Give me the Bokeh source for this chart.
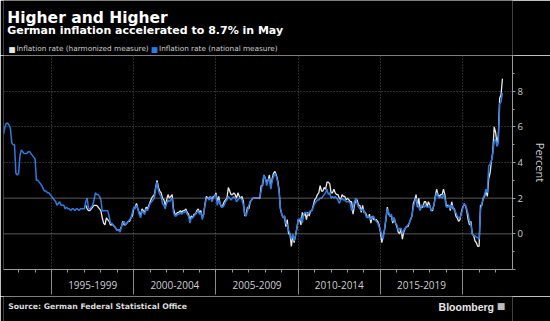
from bokeh.plotting import figure
from bokeh.models import Range1d, FixedTicker, Label, Span, LinearAxis
from bokeh.layouts import column
from bokeh.embed import file_html
from bokeh.resources import INLINE

# ---------------- data (year-over-year %, monthly) ----------------
national_start = 1992   # Jan 1992 .. May 2022
national = [
    5.6, 6.0, 6.2, 6.2, 6.1, 5.9, 5.1, 5.0, 5.0, 3.4, 3.3, 3.4,   # 1992
    4.4, 4.7, 4.6, 4.5, 4.5, 4.5, 4.6, 4.6, 4.5, 4.4, 4.3, 4.2,   # 1993
    3.0, 3.0, 2.9, 2.8, 2.7, 2.5, 2.4, 2.4, 2.3, 2.3, 2.2, 2.1,   # 1994
    2.0, 1.9, 1.8, 1.6, 1.7, 1.8, 1.6, 1.6, 1.6, 1.4, 1.5, 1.4,   # 1995
    1.4, 1.3, 1.4, 1.4, 1.3, 1.4, 1.4, 1.3, 1.4, 1.4, 1.4, 1.4,   # 1996
    1.8, 2.0, 1.4, 1.4, 1.5, 1.6, 1.9, 2.3, 2.2, 2.2, 2.1, 1.9,   # 1997
    1.3, 1.3, 1.3, 1.3, 1.3, 1.0, 0.6, 0.6, 0.5, 0.4, 0.3, 0.2,   # 1998
    0.2, 0.1, 0.4, 0.6, 0.7, 0.5, 0.6, 0.7, 0.8, 0.9, 1.2, 1.5,   # 1999
    1.4, 1.6, 1.4, 1.1, 0.9, 1.3, 1.2, 1.1, 1.4, 1.3, 1.5, 1.7,   # 2000
    1.8, 1.9, 2.0, 2.5, 2.9, 2.4, 2.2, 2.1, 1.7, 1.6, 1.4, 1.7,   # 2001
    1.9, 1.8, 1.9, 2.0, 1.2, 1.0, 1.0, 1.1, 1.1, 1.2, 1.1, 1.2,   # 2002
    1.2, 1.3, 1.1, 1.0, 0.6, 0.9, 0.9, 1.0, 1.1, 1.2, 1.3, 1.1,   # 2003
    1.2, 0.8, 1.1, 1.6, 2.0, 2.0, 1.9, 2.1, 1.8, 2.0, 2.1, 2.2,   # 2004
    1.6, 1.9, 1.7, 1.5, 1.5, 1.6, 1.8, 1.9, 2.1, 2.0, 1.9, 2.0,   # 2005
    2.1, 2.0, 1.8, 1.9, 2.0, 2.0, 1.9, 1.6, 1.1, 1.0, 1.3, 1.6,   # 2006
    1.8, 1.9, 2.0, 2.0, 2.0, 2.0, 2.0, 2.1, 2.4, 2.9, 3.3, 3.1,   # 2007
    2.7, 3.0, 3.1, 2.5, 3.0, 3.2, 3.4, 3.2, 2.9, 2.4, 1.5, 1.1,   # 2008
    0.9, 1.0, 0.6, 0.5, 0.2, 0.0, -0.3, 0.0, -0.4, -0.1, 0.3, 0.8,  # 2009
    0.8, 0.9, 0.6, 1.1, 1.2, 1.2, 1.1, 1.2, 1.3, 1.3, 1.5, 1.7,   # 2010
    1.8, 1.9, 1.9, 2.0, 2.0, 2.1, 2.2, 2.3, 2.5, 2.2, 2.3, 2.0,   # 2011
    2.1, 2.0, 2.1, 2.0, 1.9, 1.7, 1.9, 2.0, 1.9, 1.9, 1.8, 1.8,   # 2012
    1.8, 1.7, 1.3, 1.4, 1.8, 2.0, 1.7, 1.5, 1.4, 1.3, 1.4, 1.3,   # 2013
    1.1, 0.9, 1.0, 0.9, 0.8, 0.9, 1.0, 0.8, 0.7, 0.6, 0.4, 0.2,   # 2014
    -0.1, -0.3, 0.3, 0.9, 1.4, 1.2, 1.0, 1.1, 0.7, 0.9, 0.6, 0.5,  # 2015
    0.2, 0.3, 0.3, 0.0, 0.2, 0.3, 0.4, 0.5, 0.6, 0.8, 1.0, 1.5,   # 2016
    1.8, 2.0, 1.6, 1.5, 1.3, 1.6, 1.6, 1.5, 1.6, 1.5, 1.5, 1.6,   # 2017
    1.3, 1.4, 1.6, 2.0, 2.3, 2.1, 2.0, 2.1, 2.0, 2.2, 2.0, 1.5,   # 2018
    1.5, 1.6, 1.4, 1.6, 1.5, 1.3, 1.2, 1.0, 0.9, 0.9, 1.1, 1.4,   # 2019
    1.7, 1.6, 1.4, 1.1, 0.7, 0.5, 0.0, -0.1, -0.1, -0.2, -0.2, -0.3,  # 2020
    1.3, 1.7, 2.0, 2.2, 2.5, 2.3, 3.8, 3.9, 4.1, 4.5, 5.2, 5.3,   # 2021
    4.9, 5.1, 7.3, 7.4, 7.9,                                      # 2022
]

harmonized_start = 1997   # Jan 1997 .. May 2022
harmonized = [
    1.6, 1.4, 1.3, 1.3, 1.4, 1.5, 1.6, 1.6, 1.6, 1.5, 1.4, 1.3,   # 1997
    0.9, 0.6, 0.5, 0.9, 0.8, 0.7, 0.5, 0.5, 0.5, 0.4, 0.3, 0.2,   # 1998
    0.2, 0.2, 0.4, 0.7, 0.5, 0.5, 0.6, 0.7, 0.7, 0.9, 1.0, 1.4,   # 1999
    1.5, 1.7, 1.4, 1.2, 1.0, 1.4, 1.3, 1.2, 1.5, 1.4, 1.6, 1.8,   # 2000
    2.0, 2.1, 2.2, 2.6, 3.0, 2.6, 2.4, 2.3, 2.0, 1.9, 1.6, 1.9,   # 2001
    2.2, 2.0, 2.1, 2.2, 1.4, 1.1, 1.1, 1.2, 1.2, 1.3, 1.2, 1.3,   # 2002
    1.3, 1.4, 1.2, 1.1, 0.8, 1.0, 0.9, 1.1, 1.1, 1.3, 1.4, 1.2,   # 2003
    1.3, 0.9, 1.1, 1.7, 2.1, 2.0, 2.0, 2.1, 1.9, 2.1, 2.1, 2.3,   # 2004
    1.8, 2.1, 1.7, 1.5, 1.6, 1.8, 1.9, 2.0, 2.6, 2.4, 2.2, 2.2,   # 2005
    2.3, 2.2, 2.0, 2.3, 2.1, 2.0, 2.1, 1.8, 1.0, 1.1, 1.5, 1.4,   # 2006
    1.8, 1.9, 2.0, 2.0, 2.0, 2.0, 2.0, 2.0, 2.7, 2.7, 3.3, 3.1,   # 2007
    2.9, 3.0, 3.3, 2.6, 3.1, 3.4, 3.5, 3.3, 3.0, 2.5, 1.4, 1.1,   # 2008
    0.9, 1.0, 0.4, 0.8, 0.0, 0.0, -0.7, -0.1, -0.5, -0.1, 0.3, 0.8,  # 2009
    0.8, 0.5, 1.2, 1.0, 1.2, 0.8, 1.2, 1.0, 1.3, 1.3, 1.6, 1.9,   # 2010
    2.0, 2.2, 2.3, 2.7, 2.4, 2.4, 2.6, 2.5, 2.9, 2.9, 2.8, 2.3,   # 2011
    2.3, 2.5, 2.3, 2.2, 2.2, 2.0, 1.9, 2.2, 2.1, 2.1, 1.9, 2.0,   # 2012
    1.9, 1.8, 1.8, 1.1, 1.6, 1.9, 1.9, 1.6, 1.6, 1.2, 1.6, 1.2,   # 2013
    1.2, 1.0, 0.9, 1.1, 0.6, 1.0, 0.8, 0.8, 0.8, 0.7, 0.5, 0.1,   # 2014
    -0.5, -0.1, 0.2, 0.8, 1.5, 1.1, 1.0, 1.0, 0.6, 0.9, 0.6, 0.4,  # 2015
    0.1, 0.0, 0.3, -0.3, 0.1, 0.3, 0.4, 0.4, 0.6, 0.8, 1.0, 1.7,  # 2016
    1.9, 2.2, 1.5, 2.0, 1.4, 1.5, 1.5, 1.8, 1.8, 1.5, 1.8, 1.6,   # 2017
    1.3, 1.3, 1.6, 2.1, 2.5, 2.2, 2.1, 2.2, 2.2, 2.5, 2.2, 1.6,   # 2018
    1.6, 1.6, 1.3, 1.8, 1.4, 1.4, 1.0, 0.9, 0.7, 0.8, 1.2, 1.5,   # 2019
    1.6, 1.6, 1.3, 0.8, 0.5, 0.7, 0.0, -0.1, -0.4, -0.5, -0.7, -0.7,  # 2020
    1.6, 1.6, 2.0, 2.1, 2.4, 2.1, 3.1, 3.4, 4.1, 4.6, 6.0, 5.7,   # 2021
    5.1, 5.5, 7.6, 7.8, 8.7,                                      # 2022
]

period_starts = [1995, 2000, 2005, 2010, 2015, 2020]
period_labels = ["1995-1999", "2000-2004", "2005-2009", "2010-2014", "2015-2019"]
y_ticks = [-2, 0, 2, 4, 6, 8, 10]
y_minor = [-1, 1, 3, 5, 7, 9]
year_ticks = list(range(1993, 2023))

series_names = ["Inflation rate (harmonized measure)", "Inflation rate (national measure)"]
title = "Higher and Higher"
subtitle = "German inflation accelerated to 8.7% in May"
source = "Source: German Federal Statistical Office"
brand = "Bloomberg"


def month_end_x(start_year, n):
    # month-end positions in decimal years
    return [start_year + (i + 1) / 12.0 for i in range(n)]


x_nat = month_end_x(national_start, len(national))
x_har = month_end_x(harmonized_start, len(harmonized))

FONT = "Open Sans"
HFONT = "DejaVu Sans"
BG = "black"
WHITE = "#e8e8e8"
BLUE = "#2b7be3"
W = 550
HEAD_H, FOOT_H = 55, 25
MAIN_H = 321 - HEAD_H - FOOT_H
FRAME_H = 214


def text_panel(h):
    f = figure(width=W, height=h, x_range=Range1d(0, W), y_range=Range1d(h, 0),
               x_axis_type=None, y_axis_type=None, output_backend="svg",
               toolbar_location=None, min_border=0, outline_line_color=None,
               background_fill_color=BG, border_fill_color=BG)
    f.xgrid.visible = False
    f.ygrid.visible = False
    return f


def put(f, x, y, txt, size, color, bold=False, align="left", font=HFONT):
    f.add_layout(Label(x=x, y=y, text=txt, text_font=font, text_font_size=size,
                       text_font_style="bold" if bold else "normal",
                       text_color=color, text_align=align,
                       text_baseline="alphabetic"))


# ---------------- header ----------------
head = text_panel(HEAD_H)
put(head, 4, 17, title, "15.5px", "white", bold=True)
put(head, 4, 29.5, subtitle, "11px", "white", bold=True)
for sx, col, txt in ((5.5, WHITE, series_names[0]), (159.5, BLUE, series_names[1])):
    put(head, sx, 48.5, "\u25a0", "7.5px", col)
    put(head, sx + 8.5, 48.3, txt, "7.3px", "#cfcfcf")

# ---------------- main chart ----------------
X0, X1 = 1992.08, 2023.03
p = figure(width=W, height=MAIN_H, x_range=Range1d(X0, X1), y_range=Range1d(-2, 10),
           output_backend="svg", toolbar_location=None, y_axis_location="right",
           min_border_left=3, min_border_right=37, min_border_top=0,
           min_border_bottom=MAIN_H - FRAME_H,
           background_fill_color=BG, border_fill_color=BG, outline_line_color=None)

p.xgrid.ticker = FixedTicker(ticks=period_starts)
p.xgrid.grid_line_color = "#555555"
p.xgrid.grid_line_dash = "1 2"
p.ygrid.ticker = FixedTicker(ticks=[4, 6, 8, 10])
p.ygrid.grid_line_color = "#5a5a5a"
p.ygrid.grid_line_dash = "1 2"
for lvl in (0, 2):
    p.add_layout(Span(location=lvl, dimension="width", line_color="#b0b0b0",
                      line_dash="1 1", line_width=1))

# x axis: separators + yearly minor ticks
xa = p.xaxis[0]
xa.ticker = FixedTicker(ticks=period_starts, minor_ticks=year_ticks)
xa.axis_line_color = "#9a9a9a"
xa.major_tick_line_color = "#8a8a8a"
xa.minor_tick_line_color = "#9a9a9a"
xa.major_tick_out = 0
xa.major_tick_in = -25
xa.minor_tick_out = 3
xa.minor_tick_in = 0
xa.major_label_overrides = {t: "" for t in period_starts}
xa.major_label_text_font_size = "1px"
xa.major_label_standoff = 0

# x axis: period labels centred between separators
mids = [s + 2.5 for s in period_starts[:-1]]
xb = LinearAxis(ticker=FixedTicker(ticks=mids, minor_ticks=[]),
                major_label_overrides=dict(zip(mids, period_labels)),
                axis_line_color=None, major_tick_line_color=None,
                minor_tick_line_color=None, major_tick_out=0, major_tick_in=0,
                minor_tick_out=0, minor_tick_in=0, major_label_standoff=8,
                major_label_text_font=FONT, major_label_text_font_size="10px",
                major_label_text_color="#cfcfcf")
p.add_layout(xb, "below")

# y axis (right)
ya = p.yaxis[0]
ya.ticker = FixedTicker(ticks=y_ticks, minor_ticks=y_minor)
ya.major_label_overrides = {-2: "", 10: ""}
ya.axis_line_color = "#9a9a9a"
ya.major_tick_line_color = "#9a9a9a"
ya.minor_tick_line_color = "#9a9a9a"
ya.major_tick_out = 3
ya.major_tick_in = 0
ya.minor_tick_out = 2
ya.minor_tick_in = 0
ya.major_label_standoff = 2
ya.major_label_text_color = "#cfcfcf"
ya.major_label_text_font = FONT
ya.major_label_text_font_size = "9.5px"
ya.axis_label = "Percent"
ya.axis_label_text_color = "#cfcfcf"
ya.axis_label_text_font = FONT
ya.axis_label_text_font_size = "11px"
ya.axis_label_text_font_style = "normal"
ya.axis_label_standoff = 7

p.line(x_har, harmonized, line_color=WHITE, line_width=1.3)
p.line(x_nat, national, line_color=BLUE, line_width=1.5)

# ---------------- footer ----------------
foot = text_panel(FOOT_H)
put(foot, 5, 9.5, source, "7.7px", "#dcdcdc", bold=True)
put(foot, 530, 10, brand, "10.5px", "#e6e6e6", bold=True, align="right",
    font="Liberation Sans")
put(foot, 533, 9.5, "\u25a0", "9px", "#bdbdbd")

layout = column(head, p, foot, spacing=0)
open("out.html", "w").write(file_html(layout, INLINE))
